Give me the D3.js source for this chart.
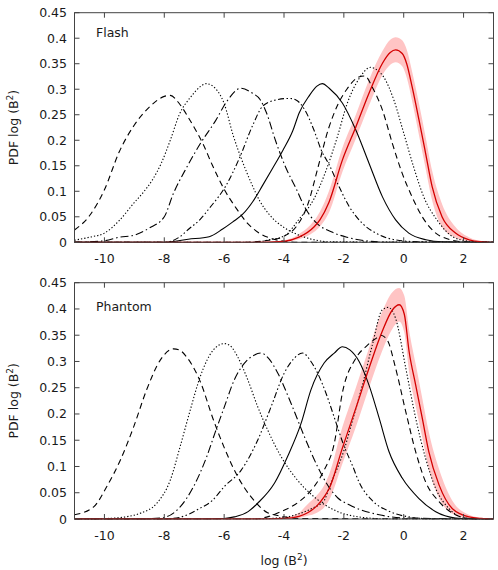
<!DOCTYPE html>
<html>
<head>
<meta charset="utf-8">
<script src="https://cdn.jsdelivr.net/npm/d3@7"></script>
<style>
html,body{margin:0;padding:0;background:#fff;}
svg{display:block;}
text{font-family:"DejaVu Sans",sans-serif;fill:#1a1a1a;}
</style>
</head>
<body>
<svg id="c" width="498" height="570"></svg>
<script>
// ---------- DATA ----------
const xTicks = [-10, -8, -6, -4, -2, 0, 2];
const xTickLabels = ["-10", "-8", "-6", "-4", "-2", "0", "2"];
const yTicks = [0, 0.05, 0.1, 0.15, 0.2, 0.25, 0.3, 0.35, 0.4, 0.45];
const yTickLabels = ["0", "0.05", "0.1", "0.15", "0.2", "0.25", "0.3", "0.35", "0.4", "0.45"];
const panelTitles = ["Flash", "Phantom"];

// Flash panel curves [logB2, pdf]
const flashA = [[-11,0.024],[-10.5,0.052],[-10,0.103],[-9.5,0.178],[-9,0.23],[-8.5,0.265],[-8,0.286],[-7.8,0.288],[-7.5,0.272],[-7.2,0.245],[-7,0.225],[-6.7,0.192],[-6.4,0.152],[-6,0.104],[-5.6,0.067],[-5.2,0.036],[-4.8,0.017],[-4.4,0.007],[-4,0.002],[-3.5,0],[3,0]];
const flashB = [[-11,0.004],[-10.5,0.01],[-10,0.018],[-9.5,0.043],[-9,0.078],[-8.7,0.098],[-8.4,0.122],[-8.1,0.155],[-7.8,0.2],[-7.5,0.25],[-7.1,0.286],[-6.8,0.305],[-6.6,0.311],[-6.3,0.302],[-6,0.272],[-5.7,0.21],[-5.4,0.16],[-5.1,0.117],[-4.8,0.08],[-4.5,0.055],[-4,0.029],[-3.5,0.014],[-3,0.005],[-2.5,0.001],[3,0]];
const flashC = [[-11,0],[-10,0.003],[-9.5,0.01],[-9,0.014],[-8.5,0.028],[-8,0.05],[-7.7,0.095],[-7.25,0.147],[-6.8,0.193],[-6.3,0.237],[-5.9,0.277],[-5.45,0.302],[-5.05,0.292],[-4.8,0.28],[-4.6,0.256],[-4.27,0.197],[-3.93,0.145],[-3.6,0.106],[-3.3,0.068],[-2.9,0.037],[-2.4,0.02],[-1.9,0.01],[-1.4,0.004],[-0.5,0],[3,0]];
const flashD = [[-11,0],[-8,0],[-7.5,0.01],[-7.16,0.027],[-6.8,0.045],[-6.49,0.067],[-5.93,0.112],[-5.49,0.165],[-5.04,0.23],[-4.71,0.267],[-4.27,0.279],[-3.82,0.282],[-3.6,0.279],[-3.3,0.259],[-3,0.22],[-2.75,0.18],[-2.49,0.152],[-2.16,0.109],[-1.82,0.07],[-1.38,0.037],[-0.93,0.018],[-0.3,0.005],[0.5,0.001],[3,0]];
const flashE = [[-11,0],[-8,0],[-7.2,0.006],[-6.5,0.011],[-6.05,0.026],[-5.71,0.04],[-5.38,0.055],[-5.04,0.08],[-4.71,0.112],[-4.38,0.145],[-4.04,0.18],[-3.71,0.218],[-3.49,0.254],[-3.16,0.287],[-2.9,0.306],[-2.72,0.311],[-2.49,0.302],[-2.05,0.273],[-1.6,0.22],[-1.16,0.155],[-0.71,0.089],[-0.27,0.044],[0.17,0.018],[0.74,0.005],[1.3,0.001],[3,0]];
const flashF = [[-11,0],[-5.5,0],[-4.5,0.004],[-4,0.012],[-3.6,0.03],[-3.2,0.075],[-2.85,0.15],[-2.5,0.225],[-2.2,0.27],[-1.9,0.3],[-1.5,0.324],[-1.3,0.326],[-1.05,0.304],[-0.71,0.259],[-0.38,0.194],[-0.05,0.135],[0.28,0.089],[0.62,0.05],[1.07,0.018],[1.5,0.006],[2,0.001],[3,0]];
const flashG = [[-11,0],[-5,0],[-4.5,0.005],[-4,0.012],[-3.5,0.045],[-3,0.085],[-2.6,0.14],[-2.2,0.21],[-1.9,0.27],[-1.5,0.32],[-1.1,0.343],[-0.9,0.338],[-0.67,0.324],[-0.33,0.279],[0,0.214],[0.33,0.148],[0.67,0.089],[1.11,0.044],[1.67,0.01],[2.2,0.002],[3,0]];
const flashMeanX  = [-11,-5,-4,-3.5,-3,-2.8,-2.5,-2.05,-1.6,-1.16,-0.71,-0.45,-0.27,-0.05,0.1,0.28,0.51,0.73,0.95,1.28,1.73,2.18,2.6,3];
const flashMean   = [0,0,0.002,0.01,0.03,0.044,0.078,0.161,0.226,0.292,0.351,0.372,0.377,0.37,0.35,0.305,0.24,0.175,0.109,0.05,0.018,0.005,0.001,0];
const flashHi     = [0,0,0.004,0.016,0.042,0.06,0.1,0.185,0.25,0.318,0.375,0.397,0.402,0.396,0.378,0.335,0.272,0.207,0.14,0.075,0.03,0.01,0.002,0];
const flashLo     = [0,0,0.001,0.006,0.02,0.031,0.058,0.138,0.203,0.268,0.328,0.348,0.353,0.345,0.323,0.277,0.21,0.145,0.082,0.03,0.009,0.002,0,0];

// Phantom panel curves
const phantomA = [[-11,0.008],[-10.36,0.023],[-9.92,0.062],[-9.47,0.112],[-9.02,0.176],[-8.59,0.246],[-8.13,0.303],[-7.69,0.324],[-7.5,0.322],[-7.26,0.309],[-6.8,0.262],[-6.36,0.189],[-5.99,0.135],[-5.55,0.081],[-5.1,0.042],[-4.55,0.012],[-4.16,0.006],[-3.5,0.001],[3,0]];
const phantomB = [[-11,0],[-10.5,0],[-9.9,0.001],[-9.3,0.004],[-8.8,0.011],[-8.25,0.03],[-7.8,0.074],[-7.47,0.138],[-7.13,0.208],[-6.8,0.271],[-6.36,0.322],[-6.0,0.334],[-5.8,0.33],[-5.55,0.309],[-5.21,0.265],[-4.88,0.214],[-4.55,0.17],[-4.1,0.119],[-3.55,0.074],[-2.99,0.042],[-2.32,0.017],[-1.5,0.004],[-0.5,0],[3,0]];
const phantomC = [[-11,0],[-9,0],[-8.1,0.002],[-7.47,0.023],[-7.02,0.062],[-6.58,0.119],[-6.3,0.165],[-5.99,0.214],[-5.66,0.265],[-5.32,0.297],[-5.0,0.312],[-4.77,0.316],[-4.5,0.305],[-4.21,0.278],[-3.77,0.221],[-3.32,0.157],[-2.88,0.1],[-2.49,0.06],[-2.2,0.04],[-1.82,0.027],[-0.82,0.008],[0,0.002],[3,0]];
const phantomD = [[-11,0],[-8,0],[-7.5,0.003],[-6.82,0.02],[-6.4,0.035],[-5.99,0.062],[-5.43,0.093],[-4.88,0.15],[-4.43,0.214],[-3.99,0.278],[-3.66,0.306],[-3.38,0.316],[-3.1,0.3],[-2.88,0.278],[-2.6,0.24],[-2.3,0.19],[-2.0,0.14],[-1.7,0.1],[-1.49,0.07],[-1.05,0.035],[-0.5,0.015],[0.3,0.003],[1,0],[3,0]];
const phantomE = [[-11,0],[-7,0],[-6,0.001],[-5.66,0.004],[-5.2,0.014],[-4.88,0.03],[-4.32,0.068],[-3.88,0.119],[-3.43,0.182],[-3.1,0.246],[-2.66,0.297],[-2.32,0.316],[-2.05,0.328],[-1.8,0.322],[-1.49,0.3],[-1.16,0.255],[-0.82,0.192],[-0.49,0.128],[-0.05,0.078],[0.51,0.039],[1.07,0.014],[1.73,0.002],[2.3,0],[3,0]];
const phantomF = [[-11,0],[-5,0],[-4.5,0.005],[-4.1,0.014],[-3.43,0.036],[-2.99,0.062],[-2.66,0.093],[-2.32,0.144],[-2.05,0.24],[-1.6,0.306],[-1.21,0.331],[-0.9,0.345],[-0.77,0.35],[-0.55,0.341],[-0.27,0.287],[0.07,0.204],[0.4,0.128],[0.73,0.071],[1.18,0.033],[1.73,0.008],[2.2,0.001],[3,0]];
const phantomG = [[-11,0],[-5,0],[-4,0.003],[-3.5,0.01],[-3,0.022],[-2.66,0.035],[-2.49,0.06],[-2,0.13],[-1.7,0.19],[-1.38,0.255],[-1.05,0.331],[-0.72,0.398],[-0.52,0.403],[-0.27,0.382],[0.07,0.287],[0.4,0.192],[0.73,0.116],[1.07,0.058],[1.51,0.02],[1.95,0.003],[2.4,0],[3,0]];
const phantomMeanX = [-11,-5,-4,-3.5,-3.21,-2.9,-2.66,-2.49,-2.05,-1.6,-1.16,-0.72,-0.38,-0.15,0.02,0.18,0.4,0.62,0.84,1.18,1.62,2.18,2.6,3];
const phantomMean  = [0,0,0.001,0.005,0.012,0.025,0.042,0.058,0.135,0.211,0.287,0.357,0.398,0.408,0.39,0.319,0.255,0.192,0.128,0.065,0.02,0.004,0.001,0];
const phantomHi    = [0,0,0.003,0.012,0.028,0.045,0.064,0.085,0.175,0.25,0.325,0.395,0.432,0.44,0.425,0.36,0.295,0.23,0.165,0.095,0.035,0.008,0.002,0];
const phantomLo    = [0,0,0,0.002,0.006,0.012,0.022,0.036,0.105,0.175,0.25,0.32,0.362,0.376,0.355,0.28,0.215,0.155,0.095,0.04,0.01,0.001,0,0];

// ---------- STYLE ----------
const dashStyles = {
  dashed: "6,4",
  dotted: "1.3,2",
  dashdot: "8,3,1.5,3",
  dashdotdot: "6,2.5,1.5,2.5,1.5,2.5",
  solid: null
};

const panels = [
  { title: panelTitles[0], top: 12.7, bottom: 242.3,
    curves: [[flashA,"dashed"],[flashB,"dotted"],[flashC,"dashdot"],[flashD,"dashdotdot"],[flashE,"solid"],[flashF,"dashed"],[flashG,"dotted"]],
    mx: flashMeanX, m: flashMean, hi: flashHi, lo: flashLo, labelY: 37 },
  { title: panelTitles[1], top: 282.7, bottom: 519,
    curves: [[phantomA,"dashed"],[phantomB,"dotted"],[phantomC,"dashdot"],[phantomD,"dashdotdot"],[phantomE,"solid"],[phantomF,"dashed"],[phantomG,"dotted"]],
    mx: phantomMeanX, m: phantomMean, hi: phantomHi, lo: phantomLo, labelY: 311 }
];

const svg = d3.select("#c");
const left = 74.5, right = 493.5;
const x = d3.scaleLinear().domain([-11, 3]).range([left, right]);

panels.forEach((p, i) => {
  const y = d3.scaleLinear().domain([0, 0.45]).range([p.bottom, p.top]);
  const g = svg.append("g");
  const clipId = "clip" + i;
  svg.append("clipPath").attr("id", clipId).append("rect")
    .attr("x", left).attr("y", p.top - 1).attr("width", right - left).attr("height", p.bottom - p.top + 1.5);

  const plot = g.append("g").attr("clip-path", `url(#${clipId})`);

  // band
  const bandData = p.mx.map((v, k) => ({ x: v, lo: p.lo[k], hi: p.hi[k] }));
  plot.append("path").datum(bandData)
    .attr("d", d3.area().x(d => x(d.x)).y0(d => y(d.lo)).y1(d => y(d.hi)).curve(d3.curveMonotoneX))
    .attr("fill", "#ffc4c4").attr("stroke", "none");

  const line = d3.line().x(d => x(d[0])).y(d => y(d[1])).curve(d3.curveMonotoneX);
  p.curves.forEach(([data, style]) => {
    plot.append("path").datum(data).attr("d", line)
      .attr("fill", "none").attr("stroke", "#000").attr("stroke-width", 1.1)
      .attr("stroke-dasharray", dashStyles[style]);
  });

  const meanData = p.mx.map((v, k) => [v, p.m[k]]);
  plot.append("path").datum(meanData).attr("d", line)
    .attr("fill", "none").attr("stroke", "#d40000").attr("stroke-width", 1.3);

  // frame
  g.append("rect").attr("x", left).attr("y", p.top).attr("width", right - left).attr("height", p.bottom - p.top)
    .attr("fill", "none").attr("stroke", "#444").attr("stroke-width", 1);

  const tl = 5;
  // x ticks (bottom + top, inward)
  xTicks.forEach((t, k) => {
    g.append("line").attr("x1", x(t)).attr("x2", x(t)).attr("y1", p.bottom).attr("y2", p.bottom - tl).attr("stroke", "#444");
    g.append("line").attr("x1", x(t)).attr("x2", x(t)).attr("y1", p.top).attr("y2", p.top + tl).attr("stroke", "#444");
    g.append("text").attr("x", x(t)).attr("y", p.bottom + 21).attr("text-anchor", "middle")
      .attr("font-size", "12.5px").text(xTickLabels[k]);
  });
  // y ticks (left + right, inward)
  yTicks.forEach((t, k) => {
    g.append("line").attr("x1", left).attr("x2", left + tl).attr("y1", y(t)).attr("y2", y(t)).attr("stroke", "#444");
    g.append("line").attr("x1", right).attr("x2", right - tl).attr("y1", y(t)).attr("y2", y(t)).attr("stroke", "#444");
    g.append("text").attr("x", 67).attr("y", y(t)).attr("dy", "0.36em").attr("text-anchor", "end")
      .attr("font-size", "12.5px").text(yTickLabels[k]);
  });

  // panel title
  g.append("text").attr("x", 96).attr("y", p.labelY).attr("font-size", "12.5px").text(p.title);

  // y label
  const cy = (p.top + p.bottom) / 2;
  const yl = g.append("text").attr("transform", `translate(18,${cy}) rotate(-90)`)
    .attr("text-anchor", "middle").attr("font-size", "12.5px");
  yl.append("tspan").text("PDF log (B");
  yl.append("tspan").attr("font-size", "9px").attr("dy", "-5").text("2");
  yl.append("tspan").attr("dy", "5").text(")");
});

// x label
const xl = svg.append("text").attr("x", (left + right) / 2).attr("y", 565)
  .attr("text-anchor", "middle").attr("font-size", "12.5px");
xl.append("tspan").text("log (B");
xl.append("tspan").attr("font-size", "9px").attr("dy", "-5").text("2");
xl.append("tspan").attr("dy", "5").text(")");
</script>
</body>
</html>
